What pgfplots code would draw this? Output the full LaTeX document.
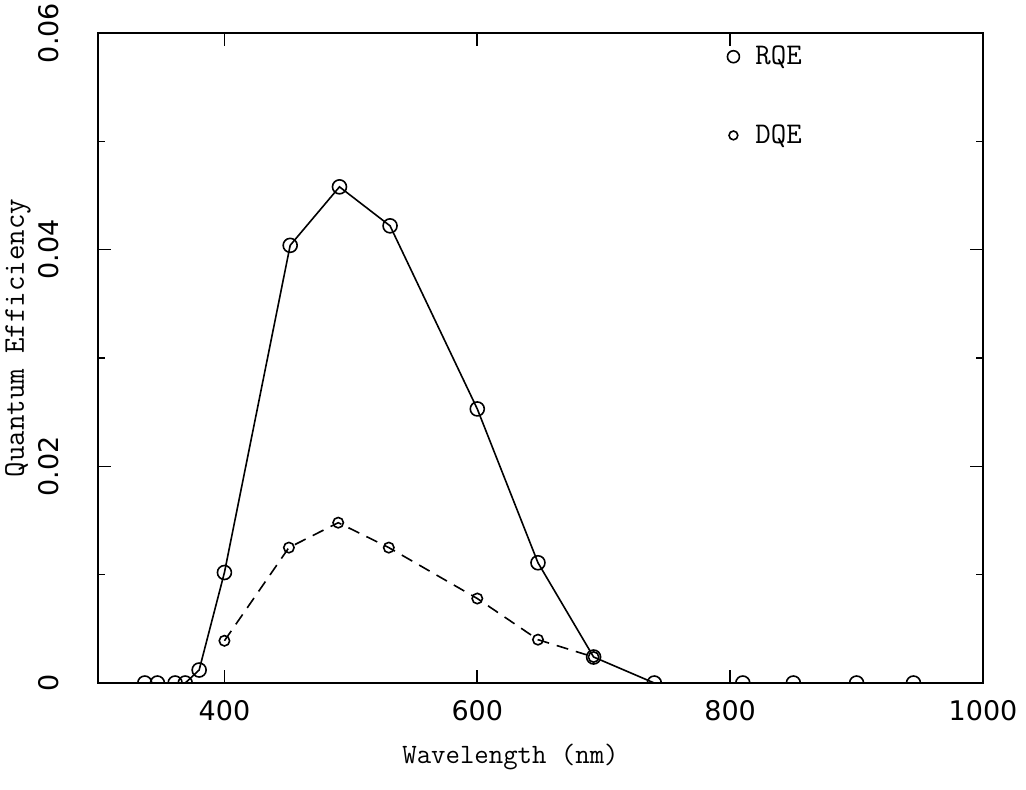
\documentclass[border=0pt]{standalone}
\usepackage{pgfplots}
\pgfplotsset{compat=1.18}
\usepackage{fontspec}
\setmainfont{DejaVu Sans}
\begin{document}
\begin{tikzpicture}
\useasboundingbox (-49pt,-53pt) rectangle (464pt,341.5pt);
\begin{axis}[
  at={(0pt,0pt)}, anchor=south west,
  scale only axis, width=442.5pt, height=325pt,
  xmin=300, xmax=1000, ymin=0, ymax=0.06,
  scaled x ticks=false, scaled y ticks=false,
  xtick={400,600,800,1000}, xticklabels={400,600,800,1000},
  ytick={0,0.02,0.04,0.06}, yticklabels={0,0.02,0.04,0.06},
  minor ytick={0.01,0.03,0.05},
  tick align=inside, major tick length=6.5pt, minor tick length=3.5pt,
  tick style={line width=0.8pt, black},
  axis line style={line width=1pt},
  /pgf/number format/assume math mode=true,
  ticklabel style={font=\fontsize{13.5}{13.5}\selectfont},
  xticklabel style={yshift=-5pt},
  yticklabel style={rotate=90, anchor=south, yshift=16pt},
  xlabel={Wavelength (nm)}, ylabel={Quantum Efficiency},
  every axis x label/.style={at={(axis description cs:0.5,0)}, anchor=center, yshift=-37pt, xshift=-15pt, font=\ttfamily\fontsize{14}{14}\selectfont},
  every axis y label/.style={at={(axis description cs:0,0.5)}, anchor=center, xshift=-40pt, yshift=10pt, rotate=90, font=\ttfamily\fontsize{15}{15}\selectfont},
  clip marker paths=true,
  legend cell align=left,
  legend style={at={(0.7085,0.987)}, anchor=north west, draw=none, fill=none, row sep=24.5pt, font=\ttfamily\fontsize{15}{15}\selectfont, inner sep=0pt, nodes={inner xsep=0pt}},
  legend image code/.code={\path[draw=none] (-4pt,0pt) -- (11pt,0pt); \draw[#1] plot coordinates {(0pt,0pt)};},
]
\addlegendimage{only marks, mark=o, mark size=3pt, line width=0.8pt}
\addlegendentry{RQE}
\addlegendimage{only marks, mark=o, mark size=2.2pt, line width=0.8pt}
\addlegendentry{DQE}
\addplot[forget plot, black, line width=0.8pt, mark=o, mark size=3.5pt] coordinates {
(337,0) (347,0) (361,0) (369,0) (380,0.0012) (400,0.0102) (452,0.0404) (491,0.0458)
(531,0.0422) (600,0.0253) (648,0.0111) (692,0.0024) (740,0) (810,0) (850,0) (900,0) (945,0)
};
\addplot[forget plot, black, line width=0.8pt, dash pattern=on 6pt off 4pt, mark=o, mark size=2.6pt, mark options={solid}] coordinates {
(400,0.0039) (451,0.0125) (490,0.0148) (530,0.0125) (600,0.0078) (648,0.0040) (692,0.0024)
};
\end{axis}
\end{tikzpicture}
\end{document}
